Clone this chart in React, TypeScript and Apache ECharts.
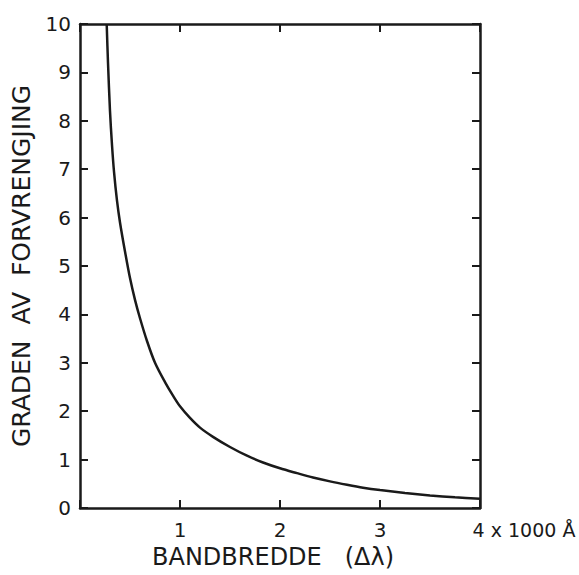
import React, { useEffect, useRef } from "react";
import * as echarts from "echarts";

// Bandwidth (units of 1000 Å) and degree of distortion
const bandwidth = [
  0.267, 0.28, 0.3, 0.32, 0.34, 0.37, 0.4, 0.45, 0.5, 0.55, 0.6, 0.67, 0.75, 0.85,
  0.93, 1.0, 1.1, 1.2, 1.33, 1.5, 1.67, 1.83, 2.0, 2.17, 2.33, 2.5, 2.67, 2.83, 3.0,
  3.25, 3.5, 3.75, 4.0,
];
const distortion = [
  10, 9.2, 8.2, 7.5, 6.95, 6.35, 5.9, 5.3, 4.75, 4.3, 3.92, 3.45, 3.0, 2.6,
  2.32, 2.1, 1.86, 1.66, 1.47, 1.26, 1.08, 0.94, 0.82, 0.72, 0.63, 0.55, 0.48, 0.42, 0.37,
  0.31, 0.26, 0.22, 0.19,
];

const xTicks = [0, 1, 2, 3, 4];
const xTickLabels = ["", "1", "2", "3", "4 x 1000 Å"];
const yTicks = [0, 1, 2, 3, 4, 5, 6, 7, 8, 9, 10];

const xTitle = "BANDBREDDE   (Δλ)";
const yTitle = "GRADEN  AV  FORVRENGJING";

const FONT = "'DejaVu Sans', 'Liberation Sans', sans-serif";
const INK = "#1a1a1a";

export default function App() {
  const ref = useRef<HTMLDivElement>(null);

  useEffect(() => {
    if (!ref.current) return;
    const chart = echarts.init(ref.current, undefined, { renderer: "svg" });

    const frameLine = { show: true, onZero: false, lineStyle: { color: INK, width: 2.5 } };
    const frameTick = { show: true, inside: true, length: 8, lineStyle: { color: INK, width: 2 } };

    chart.setOption({
      animation: false,
      backgroundColor: "#ffffff",
      grid: { left: 80, right: 99, top: 24, bottom: 67, outerBoundsMode: "none", containLabel: false },
      xAxis: [
        {
          type: "value",
          min: xTicks[0],
          max: xTicks[xTicks.length - 1],
          interval: 1,
          axisLine: { ...frameLine },
          axisTick: { ...frameTick },
          splitLine: { show: false },
          name: xTitle,
          nameLocation: "middle",
          nameGap: 28,
          nameTextStyle: { fontFamily: FONT, fontSize: 24, color: INK, padding: [0, 14, 0, 0] },
          axisLabel: {
            margin: 12,
            fontFamily: FONT,
            fontSize: 20,
            color: INK,
            formatter: (v: number) => {
              const i = xTicks.indexOf(v);
              const t = i >= 0 ? xTickLabels[i] : "";
              if (v === xTicks[xTicks.length - 1]) return "{u|" + t + "}";
              return t;
            },
            rich: {
              u: { fontFamily: FONT, fontSize: 19, color: INK, padding: [0, 0, 0, 88] },
            },
          },
        },
        {
          type: "value",
          position: "top",
          min: xTicks[0],
          max: xTicks[xTicks.length - 1],
          interval: 1,
          axisLine: { ...frameLine },
          axisTick: { ...frameTick },
          axisLabel: { show: false },
          splitLine: { show: false },
        },
      ],
      yAxis: [
        {
          type: "value",
          min: yTicks[0],
          max: yTicks[yTicks.length - 1],
          interval: 1,
          axisLine: { ...frameLine },
          axisTick: { ...frameTick },
          splitLine: { show: false },
          name: yTitle,
          nameLocation: "middle",
          nameGap: 46,
          nameTextStyle: { fontFamily: FONT, fontSize: 25, color: INK },
          axisLabel: { margin: 9, fontFamily: FONT, fontSize: 20, color: INK },
        },
        {
          type: "value",
          position: "right",
          min: yTicks[0],
          max: yTicks[yTicks.length - 1],
          interval: 1,
          axisLine: { ...frameLine },
          axisTick: { ...frameTick },
          axisLabel: { show: false },
          splitLine: { show: false },
        },
      ],
      series: [
        {
          type: "line",
          data: bandwidth.map((x, i) => [x, distortion[i]]),
          smooth: 0.3,
          symbol: "none",
          clip: true,
          lineStyle: { color: INK, width: 2.5 },
        },
      ],
    });

    return () => chart.dispose();
  }, []);

  return (
    <div
      ref={ref}
      style={{ position: "fixed", left: 0, top: 0, width: 579, height: 575, background: "#fff" }}
    />
  );
}
